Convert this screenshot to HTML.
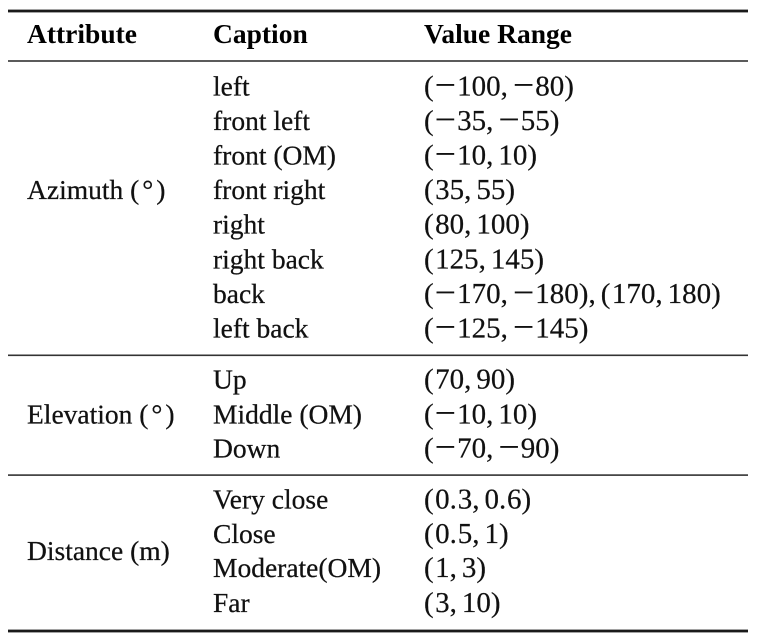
<!DOCTYPE html>
<html>
<head>
<meta charset="utf-8">
<style>
  html, body { margin: 0; padding: 0; background: #ffffff; }
  body { width: 758px; height: 644px; overflow: hidden; }
  svg { display: block; }
  .t { font-family: "Liberation Serif", "Times New Roman", serif; font-size: 27.5px; fill: #111; stroke: #111; stroke-width: 0.25px; }
  .b { font-family: "Liberation Serif", "Times New Roman", serif; font-size: 27.5px; font-weight: bold; fill: #000; }
  .v { font-family: "Liberation Serif", "Times New Roman", serif; font-size: 29px; fill: #111; stroke: #111; stroke-width: 0.2px; }
  .m { stroke: none; }
</style>
</head>
<body>
<svg width="758" height="644" viewBox="0 0 758 644" xmlns="http://www.w3.org/2000/svg">
  <!-- rules -->
  <rect x="8" y="9.6" width="740" height="2.8" fill="#1a1a1a"/>
  <rect x="8" y="60.2" width="740" height="1.6" fill="#333"/>
  <rect x="8" y="354.5" width="740" height="1.6" fill="#333"/>
  <rect x="8" y="474.3" width="740" height="1.6" fill="#333"/>
  <rect x="8" y="629.6" width="740" height="2.8" fill="#1a1a1a"/>

  <!-- header -->
  <text class="b" x="27" y="43">Attribute</text>
  <text class="b" x="213" y="43">Caption</text>
  <text class="b" x="424" y="43">Value Range</text>

  <!-- Azimuth -->
  <text class="t" x="27" y="199.2">Azimuth (<tspan dx="3">°</tspan><tspan dx="3">)</tspan></text>
  <text class="t" x="213" y="95.5">left</text>
  <text class="t" x="213" y="130.05">front left</text>
  <text class="t" x="213" y="164.6">front (OM)</text>
  <text class="t" x="213" y="199.2">front right</text>
  <text class="t" x="213" y="233.7">right</text>
  <text class="t" x="213" y="268.3">right back</text>
  <text class="t" x="213" y="302.8">back</text>
  <text class="t" x="213" y="337.4">left back</text>

  <text class="v" x="424" y="95.5">(<tspan class="m" dx="1" font-size="38" dy="2">−</tspan><tspan dx="1" dy="-2">100,</tspan><tspan class="m" dx="5" font-size="38" dy="2">−</tspan><tspan dx="1" dy="-2">80)</tspan></text>
  <text class="v" x="424" y="130.05">(<tspan class="m" dx="1" font-size="38" dy="2">−</tspan><tspan dx="1" dy="-2">35,</tspan><tspan class="m" dx="5" font-size="38" dy="2">−</tspan><tspan dx="1" dy="-2">55)</tspan></text>
  <text class="v" x="424" y="164.6">(<tspan class="m" dx="1" font-size="38" dy="2">−</tspan><tspan dx="1" dy="-2">10,</tspan><tspan dx="5">10)</tspan></text>
  <text class="v" x="424" y="199.2">(<tspan dx="1.5">35,</tspan><tspan dx="5">55)</tspan></text>
  <text class="v" x="424" y="233.7">(<tspan dx="1.5">80,</tspan><tspan dx="5">100)</tspan></text>
  <text class="v" x="424" y="268.3">(<tspan dx="1.5">125,</tspan><tspan dx="5">145)</tspan></text>
  <text class="v" x="424" y="302.8">(<tspan class="m" dx="1" font-size="38" dy="2">−</tspan><tspan dx="1" dy="-2">170,</tspan><tspan class="m" dx="5" font-size="38" dy="2">−</tspan><tspan dx="1" dy="-2">180),</tspan><tspan dx="5">(</tspan><tspan dx="1.5">170,</tspan><tspan dx="5">180)</tspan></text>
  <text class="v" x="424" y="337.4">(<tspan class="m" dx="1" font-size="38" dy="2">−</tspan><tspan dx="1" dy="-2">125,</tspan><tspan class="m" dx="5" font-size="38" dy="2">−</tspan><tspan dx="1" dy="-2">145)</tspan></text>

  <!-- Elevation -->
  <text class="t" x="27" y="423.3">Elevation (<tspan dx="3">°</tspan><tspan dx="3">)</tspan></text>
  <text class="t" x="213" y="388.6">Up</text>
  <text class="t" x="213" y="423.3">Middle (OM)</text>
  <text class="t" x="213" y="457.6">Down</text>

  <text class="v" x="424" y="388.6">(<tspan dx="1.5">70,</tspan><tspan dx="5">90)</tspan></text>
  <text class="v" x="424" y="423.3">(<tspan class="m" dx="1" font-size="38" dy="2">−</tspan><tspan dx="1" dy="-2">10,</tspan><tspan dx="5">10)</tspan></text>
  <text class="v" x="424" y="457.6">(<tspan class="m" dx="1" font-size="38" dy="2">−</tspan><tspan dx="1" dy="-2">70,</tspan><tspan class="m" dx="5" font-size="38" dy="2">−</tspan><tspan dx="1" dy="-2">90)</tspan></text>

  <!-- Distance -->
  <text class="t" x="27" y="560">Distance (m)</text>
  <text class="t" x="213" y="508.5">Very close</text>
  <text class="t" x="213" y="542.9">Close</text>
  <text class="t" x="213" y="577.2">Moderate(OM)</text>
  <text class="t" x="213" y="611.8">Far</text>

  <text class="v" x="424" y="508.5">(<tspan dx="1.5">0.</tspan><tspan dx="0.8">3,</tspan><tspan dx="5">0.</tspan><tspan dx="0.8">6)</tspan></text>
  <text class="v" x="424" y="542.9">(<tspan dx="1.5">0.</tspan><tspan dx="0.8">5,</tspan><tspan dx="5">1)</tspan></text>
  <text class="v" x="424" y="577.2">(<tspan dx="1.5">1,</tspan><tspan dx="5">3)</tspan></text>
  <text class="v" x="424" y="611.8">(<tspan dx="1.5">3,</tspan><tspan dx="5">10)</tspan></text>
</svg>
</body>
</html>
